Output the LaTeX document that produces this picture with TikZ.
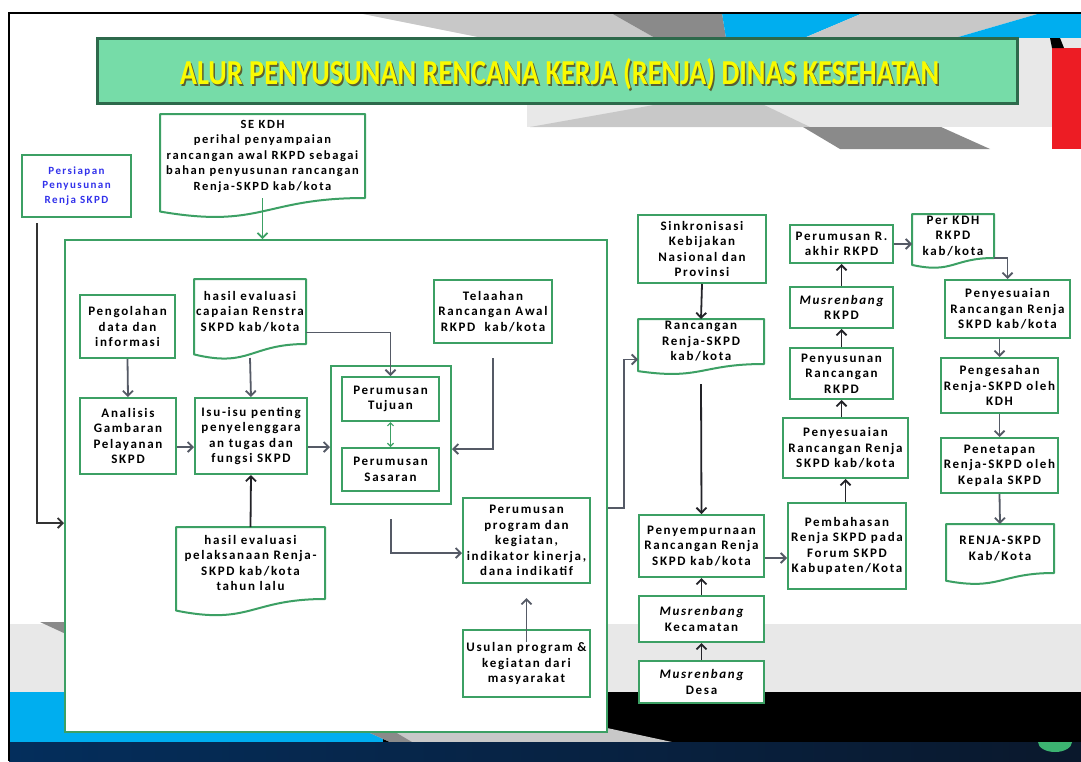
\documentclass[tikz,border=0pt]{standalone}
\usepackage{fontspec}
\usepackage{graphicx}
\usetikzlibrary{arrows.meta,calc}
\newfontfamily\boxfont{Carlito}[LetterSpace=13]
\newfontfamily\titlefont{Carlito}
\definecolor{gborder}{RGB}{60,160,100}
\definecolor{arrgray}{RGB}{85,90,102}
\definecolor{arrblack}{RGB}{35,35,40}
\definecolor{persblue}{RGB}{50,50,235}
\definecolor{lgray}{RGB}{232,232,232}
\definecolor{mgray}{RGB}{200,200,200}
\definecolor{dgray}{RGB}{138,138,138}
\definecolor{skyblue}{RGB}{0,174,239}
\definecolor{navyA}{RGB}{4,46,92}
\definecolor{navyB}{RGB}{10,24,44}
\definecolor{tgreen}{RGB}{118,220,168}
\definecolor{tborder}{RGB}{45,105,75}
\definecolor{tyellow}{RGB}{250,250,0}
\definecolor{tshadow}{RGB}{90,95,50}
\definecolor{redbar}{RGB}{237,28,36}
\definecolor{dotgreen}{RGB}{60,179,113}
\tikzset{
  box/.style={draw=gborder, line width=2pt, fill=white, align=center, inner sep=0.5pt,
    font={\boxfont\bfseries\fontsize{13}{15.5}\selectfont}, text=black},
  docnode/.style={box, draw=none, fill=none},
  docline/.style={draw=gborder, line width=2pt, line join=round},
  arr/.style={draw=arrgray, line width=1.8pt, -{Straight Barb[length=5pt,width=10pt]}},
  arrk/.style={arr, draw=arrblack},
  arrg/.style={draw=gborder, line width=1.6pt, -{Straight Barb[length=5pt,width=10pt]}},
  dblg/.style={draw=gborder, line width=1.2pt, {Straight Barb[length=3pt,width=6pt]}-{Straight Barb[length=3pt,width=6pt]}},
}
\newcommand\docoutline[2]{%
  \draw[docline] (#1.north west) -- (#1.north east) -- (#1.south east)
    .. controls (#1.south) and ($(#1.south)+(0,{0.38*#2})$) ..
    ($(#1.south west)+(0,{0.165*#2})$) -- cycle;}
\begin{document}
\begin{tikzpicture}[x=1pt,y=-1pt]
\useasboundingbox (0,0) rectangle (1081,761);
\fill[white] (0,0) rectangle (1081,761);
% ---- top decoration
\fill[mgray] (358,13) -- (611,13) -- (655,38) -- (483,38) -- cycle;
\fill[dgray] (611,13) -- (722,13) -- (726,38) -- (655,38) -- cycle;
\fill[skyblue] (722,13) -- (863,13) -- (804,38) -- (726,38) -- cycle;
\fill[mgray] (863,13) -- (1041,13) -- (955,38) -- (804,38) -- cycle;
\fill[skyblue] (1041,13) -- (1081,13) -- (1081,38) -- (955,38) -- cycle;
\fill[lgray] (527,103) rectangle (1081,127);
\fill[lgray] (1017,38) rectangle (1081,127);
\fill[mgray] (530,127) -- (665,103) -- (760,103) -- (810,127) -- cycle;
\fill[dgray] (803,127) -- (941,127) -- (990,149) -- (840,149) -- cycle;
\fill[redbar] (1052,48) rectangle (1081,149);
\fill[black] (1050,38) -- (1060,38) -- (1064,48) -- (1052,48) -- cycle;
% ---- bottom decoration
\fill[lgray] (9,624) rectangle (1081,692);
\fill[dgray] (40,622) -- (66,622) -- (66,634) -- cycle;
\fill[skyblue] (9,692) rectangle (383,742);
\fill[black] (383,692) rectangle (1081,742);
\fill[mgray] (368,732) -- (607,732) -- (607,728) -- (672,742) -- (390,742) -- cycle;
\fill[dgray] (368,732) -- (395,732) -- (412,742) -- (390,742) -- cycle;
\shade[left color=navyA, right color=navyB] (9,742) rectangle (1081,761);
\fill[dotgreen] (1038,742) arc[start angle=180, end angle=0, x radius=17, y radius=10] -- cycle;
\draw[black, line width=2.5pt] (9,761) -- (9,13) -- (1081,13);
% ---- title
\draw[fill=tgreen, draw=tborder, line width=3pt] (97,38) rectangle (1017,103);
\node[anchor=base, text=tshadow, inner sep=0] (titsh) at (561,86)
  {\resizebox{759pt}{26pt}{\titlefont\bfseries ALUR PENYUSUNAN RENCANA KERJA (RENJA) DINAS KESEHATAN}};
\node[anchor=base, text=tyellow, inner sep=0] (title) at (559.5,84.5)
  {\resizebox{759pt}{26pt}{\titlefont\bfseries ALUR PENYUSUNAN RENCANA KERJA (RENJA) DINAS KESEHATAN}};
% ---- left column
\node[box, text=persblue, font={\boxfont\bfseries\fontsize{11}{14.5}\selectfont},
  minimum width=109, minimum height=62] (pers) at (76.5,186) {Persiapan\\Penyusunan\\Renja SKPD};
\node[docnode, font={\boxfont\bfseries\fontsize{12.5}{15.5}\selectfont}, minimum width=203, minimum height=82] (se) at (262.5,156)
  {SE KDH\\perihal penyampaian\\rancangan awal RKPD sebagai\\bahan penyusunan rancangan\\Renja-SKPD kab/kota};
\docoutline{se}{82}
% ---- main box
\node[box, minimum width=542, minimum height=492] (main) at (336,486) {};
\draw[arrg] (se.south) -- (se.south |- main.north);
\draw[arrk, draw=black!80] ([xshift=16pt,yshift=-5pt]pers.south west) |- ([yshift=-37pt]main.west);
\node[box, minimum width=95, minimum height=63] (peng) at (127.5,326.5) {Pengolahan\\data dan\\informasi};
\node[box, minimum width=96, minimum height=76] (anal) at (128,436) {Analisis\\Gambaran\\Pelayanan\\SKPD};
\node[docnode, minimum width=110, minimum height=63] (hasil1) at (250,311.5) {hasil evaluasi\\capaian Renstra\\SKPD kab/kota};
\docoutline{hasil1}{63}
\node[box, minimum width=112, minimum height=76] (isu) at (251,436) {Isu-isu penting\\penyelenggara\\an tugas dan\\fungsi SKPD};
\node[docnode, minimum width=147, minimum height=70] (hasil2) at (250.5,563) {hasil evaluasi\\pelaksanaan Renja-\\SKPD kab/kota\\tahun lalu};
\docoutline{hasil2}{70}
\node[box, minimum width=120, minimum height=138] (grp) at (391,435) {};
\node[box, minimum width=97, minimum height=44] (tujuan) at (390.5,399) {Perumusan\\Tujuan};
\node[box, minimum width=97, minimum height=43] (sasaran) at (390.5,469.5) {Perumusan\\Sasaran};
\draw[dblg] (tujuan.south) -- (sasaran.north);
\node[box, minimum width=118, minimum height=63] (telaah) at (493,311.5) {Telaahan\\Rancangan Awal\\RKPD~~kab/kota};
\node[box, minimum width=127, minimum height=85] (prog) at (526.5,540.5) {Perumusan\\program dan\\kegiatan,\\indikator kinerja,\\dana indikatif};
\node[box, minimum width=127, minimum height=67] (usulan) at (526.5,663.5) {Usulan program \&\\kegiatan dari\\masyarakat};
% connectors inside main box
\draw[arr] (peng.south) -- (anal.north);
\draw[arr] ([yshift=-14pt]hasil1.south) -- (isu.north);
\draw[arr] ([yshift=-11pt]anal.east) -- ([yshift=-11pt]isu.west);
\draw[arrk] (hasil2.north) -- (isu.south);
\draw[arr] ([yshift=-11pt]isu.east) -- ([yshift=-11pt]isu.east -| grp.west);
\draw[arr] ([yshift=-21pt]hasil1.east) -| (tujuan.north);
\draw[arr] ([yshift=-14pt]telaah.south) |- ([yshift=-14pt]grp.east);
\draw[arr] ([yshift=-14pt]grp.south) |- ([yshift=-12.5pt]prog.west);
\draw[arr] ([yshift=-13pt]usulan.north) -- ([yshift=-14pt]prog.south);
% ---- middle column
\node[box, minimum width=128, minimum height=68] (sinkron) at (702,249) {Sinkronisasi\\Kebijakan\\Nasional dan\\Provinsi};
\node[docnode, minimum width=124, minimum height=43] (ranc) at (701,341.5) {Rancangan\\Renja-SKPD\\kab/kota};
\docoutline{ranc}{43}
\node[box, minimum width=125, minimum height=62] (penyemp) at (701.5,546) {Penyempurnaan\\Rancangan Renja\\SKPD kab/kota};
\node[box, minimum width=125, minimum height=46] (kecam) at (701.5,619) {\itshape Musrenbang\\Kecamatan};
\node[box, minimum width=125, minimum height=42] (desa) at (701.5,682) {\itshape Musrenbang\\Desa};
\draw[arr] ([yshift=-22pt]main.east) -- ++(16,0) |- ([yshift=-18pt]ranc.west);
\draw[arrk] (sinkron.south) -- (ranc.north);
\draw[arrk] ([yshift=-20pt]ranc.south) -- (penyemp.north);
\draw[arrk] (kecam.north) -- (penyemp.south);
\draw[arrk] (desa.north) -- (kecam.south);
% ---- right-middle column
\node[box, minimum width=118, minimum height=86] (bahas) at (847,546) {Pembahasan\\Renja SKPD pada\\Forum SKPD\\Kabupaten/Kota};
\node[box, minimum width=125, minimum height=60] (penyes1) at (845.5,448) {Penyesuaian\\Rancangan Renja\\SKPD kab/kota};
\node[box, minimum width=103, minimum height=51] (penyus) at (841.5,373.5) {Penyusunan\\Rancangan\\RKPD};
\node[box, minimum width=103, minimum height=41] (musr) at (841.5,307.5) {\itshape Musrenbang\\RKPD};
\node[box, minimum width=103, minimum height=38] (perumr) at (841.5,244) {Perumusan R.\\akhir RKPD};
\draw[arr] ([yshift=-12pt]penyemp.east) -- ([yshift=-12pt]bahas.west);
\draw[arrk] (bahas.north -| penyes1.north) -- (penyes1.south);
\draw[arrk] (penyes1.north -| penyus.south) -- (penyus.south);
\draw[arrk] (penyus.north) -- (musr.south);
\draw[arrk] (musr.north) -- (perumr.south);
% ---- right column
\node[docnode, minimum width=80, minimum height=42] (perkdh) at (953,236) {Per KDH\\RKPD\\kab/kota};
\docoutline{perkdh}{42}
\node[box, minimum width=125, minimum height=58] (penyes2) at (1007.5,309) {Penyesuaian\\Rancangan Renja\\SKPD kab/kota};
\node[box, minimum width=117, minimum height=55] (sah) at (999.5,385.5) {Pengesahan\\Renja-SKPD oleh\\KDH};
\node[box, minimum width=117, minimum height=55] (tetap) at (999.5,465.5) {Penetapan\\Renja-SKPD oleh\\Kepala SKPD};
\node[docnode, minimum width=106, minimum height=47] (renjaf) at (1000,548.5) {RENJA-SKPD\\Kab/Kota};
\docoutline{renjaf}{47}
\draw[arr] (perumr.east) -- (perumr.east -| perkdh.west);
\draw[arr] (perkdh.south east) -| (penyes2.north);
\draw[arr] (penyes2.south -| sah.north) -- (sah.north);
\draw[arr] (sah.south) -- (tetap.north);
\draw[arr] (tetap.south) -- (renjaf.north);
\end{tikzpicture}
\end{document}
